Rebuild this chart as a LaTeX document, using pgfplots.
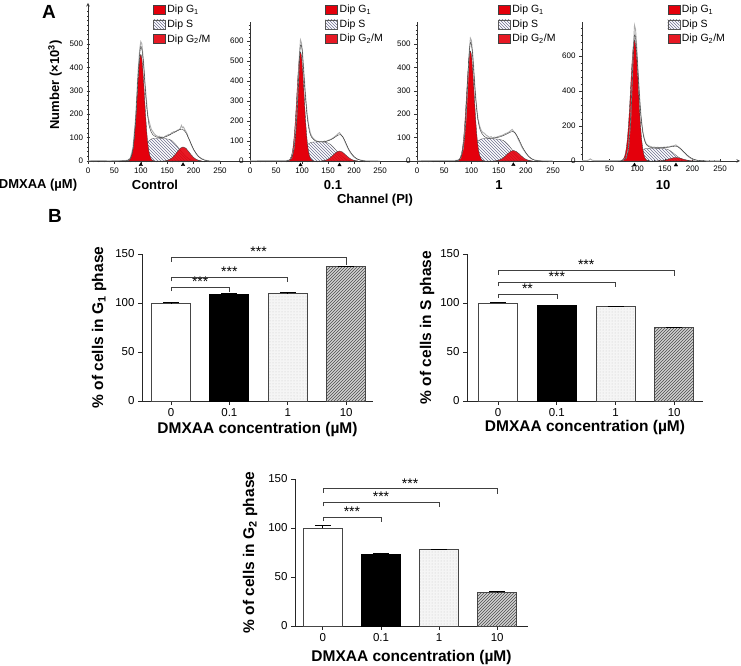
\documentclass[border=0pt]{standalone}
\usepackage{fontspec}
\setmainfont{Liberation Sans}
\usepackage{pgfplots}
\pgfplotsset{compat=1.18}
\usetikzlibrary{patterns}
\definecolor{histred}{RGB}{228,0,12}
\definecolor{hatchc}{RGB}{110,110,145}
\definecolor{bard}{RGB}{70,70,70}
\tikzset{
  sig/.style={gray!50!black, line width=0.6pt},
  star/.style={font=\fontsize{14}{14}\selectfont, anchor=south, inner sep=0.5pt},
}
\pgfplotsset{
  histax/.style={scale only axis, axis x line*=bottom, xmin=0, ymin=0,
    xtick={0,50,...,250}, minor xtick={10,20,...,240},
    tick align=outside, major tick length=3pt, minor tick length=1.5pt,
    tick style={black!80, line width=0.5pt},
    axis line style={black!80, line width=0.6pt},
    tick label style={font=\fontsize{8}{9}\selectfont},
    /pgf/number format/assume math mode=true,
    clip=false,
    legend style={draw=none, fill=none, font=\fontsize{10.5}{11}\selectfont, anchor=north west, row sep=1.5pt, inner sep=0pt},
    legend cell align=left,
    legend image code/.code={\draw[##1] (0pt,-4.5pt) rectangle (12pt,4.5pt);},
  },
  gone/.style={fill=histred, draw=black!75, line width=0.35pt},
  ess/.style={pattern=north west lines, pattern color=hatchc, draw=black!65, line width=0.35pt},
  gtwo/.style={fill=histred, fill opacity=0.9, draw=black!75, line width=0.35pt},
  meas/.style={gray!65, line width=0.9pt},
  env/.style={black!85, line width=0.35pt, smooth},
  barax/.style={scale only axis, axis x line*=bottom, axis y line*=left,
    ymin=0, ymax=150, ytick={0,50,100,150}, xtick={0,1,2,3}, xticklabels={0,0.1,1,10},
    tick align=outside, major tick length=4pt,
    tick style={black!85, line width=0.8pt}, axis line style={black!85, line width=0.8pt},
    tick label style={font=\fontsize{11.5}{13}\selectfont},
    /pgf/number format/assume math mode=true,
    xlabel={DMXAA concentration (µM)},
    ybar, bar width=39pt, bar shift=0pt, clip=false, height=147pt,
    error bars/y dir=plus, error bars/y explicit,
    error bars/error bar style={black, line width=0.8pt},
    error bars/error mark options={black, mark size=8pt, line width=0.8pt, rotate=90},
  },
  xlab/.style={every axis x label/.style={at={(axis description cs:0.5,0)}, anchor=base, yshift=-#1, font=\bfseries\fontsize{15.5}{17}\selectfont}},
  ylab/.style={every axis y label/.style={at={(axis description cs:0,0.5)}, anchor=base, xshift=-#1, rotate=90, font=\bfseries\fontsize{15.5}{17}\selectfont}},
  b0/.style={fill=white, draw=bard, line width=0.9pt},
  b1/.style={fill=black, draw=black, line width=0.9pt},
  b2/.style={fill=gray!8, draw=bard, line width=0.9pt, postaction={pattern=dots, pattern color=gray!45}},
  b3/.style={fill=gray!35, draw=bard, line width=0.9pt, postaction={pattern=north east lines, pattern color=black!70}},
}
\begin{document}
\begin{tikzpicture}[x=1pt,y=1pt]
\useasboundingbox (0,0) rectangle (741,666);

% ---------------- Panel A ----------------
% Control
\begin{axis}[histax, at={(88pt,505pt)}, anchor=south west, width=162pt, height=158pt,
  xmax=306.8, ymax=675, axis y line=left, ytick={0,100,...,500}, minor ytick={20,40,...,640},
  legend style={at={(0.40,1.0)}}]
\addlegendimage{gone}\addlegendentry{Dip G\textsubscript{1}}
\addlegendimage{ess}\addlegendentry{Dip S}
\addlegendimage{gtwo}\addlegendentry{Dip G\textsubscript{2}/M}
\addplot[ess, forget plot] coordinates {(85,0)(90,3)(95,10)(100,25)(105,45)(110,67)(115,85)(120,94)(125,97)(135,97)(145,96)(155,92)(160,85)(165,74)(170,60)(175,45)(180,32)(185,20)(190,10)(195,4)(200,1)(205,0)} \closedcycle;
\addplot[gone, smooth, forget plot] coordinates {(75,0.8)(77.5,2.6)(80,7.7)(82.5,20)(85,46)(87.5,92)(90,164)(92.5,256)(95,353)(97.5,427)(100,455)(102.5,427)(105,353)(107.5,256)(110,164)(112.5,92)(115,46)(117.5,20)(120,7.7)(122.5,2.6)(125,0.8)} \closedcycle;
\addplot[gtwo, smooth, forget plot] coordinates {(145,0.8)(150,2.6)(155,6.8)(160,15)(165,27.5)(170,42)(175,55)(180,60)(185,55)(190,42)(195,27.5)(200,15)(205,6.8)(210,2.6)(215,0.8)} \closedcycle;
\addplot[meas, forget plot] coordinates {(0,1)(20,2)(40,1)(60,2)(70,2)(75,3)(80,12)(85,55)(90,180)(95,390)(98,480)(100,510)(102,500)(105,430)(108,330)(110,280)(113,200)(115,175)(118,150)(120,135)(123,125)(125,118)(128,110)(130,108)(133,103)(135,106)(138,100)(140,103)(143,99)(145,104)(148,108)(150,110)(153,114)(155,112)(158,120)(160,122)(163,126)(165,124)(168,130)(170,132)(173,135)(175,140)(177,152)(179,142)(181,145)(183,135)(185,128)(188,115)(190,100)(193,85)(195,72)(198,58)(200,48)(203,38)(205,30)(208,22)(210,18)(213,14)(215,10)(218,8)(220,5)(223,3)(225,2)(230,1)(240,1)(250,1)};
\addplot[env, forget plot] coordinates {(60,0)(75,2)(80,10)(85,50)(90,170)(95,370)(100,490)(105,420)(110,260)(115,160)(120,122)(125,108)(130,102)(135,100)(140,100)(145,102)(150,106)(155,112)(160,118)(165,124)(170,130)(175,135)(180,134)(185,122)(190,100)(195,75)(200,50)(205,32)(210,18)(215,9)(220,4)(225,1)(230,0)};
\addplot[only marks, mark=triangle*, mark size=2pt, black, forget plot] coordinates {(100,-16)(180,-16)};
\end{axis}

% 0.1
\begin{axis}[histax, at={(250pt,505pt)}, anchor=south west, width=167pt, height=139pt,
  xmax=321, ymax=695, axis y line*=left, ytick={0,100,...,600}, minor ytick={20,40,...,680},
  legend style={at={(0.45,1.137)}}]
\addlegendimage{gone}\addlegendentry{Dip G\textsubscript{1}}
\addlegendimage{ess}\addlegendentry{Dip S}
\addlegendimage{gtwo}\addlegendentry{Dip G\textsubscript{2}/M}
\addplot[ess, forget plot] coordinates {(82,0)(87,3)(92,10)(97,25)(102,45)(107,67)(112,85)(117,93)(122,95)(135,95)(145,94)(150,90)(155,82)(160,70)(165,55)(170,40)(175,27)(180,16)(185,8)(190,3)(195,0)} \closedcycle;
\addplot[gone, smooth, forget plot] coordinates {(72,0.9)(74.5,3.1)(77,9.3)(79.5,24)(82,55)(84.5,111)(87,196)(89.5,307)(92,422)(94.5,511)(97,545)(99.5,511)(102,422)(104.5,307)(107,196)(109.5,111)(112,55)(114.5,24)(117,9.3)(119.5,3.1)(122,0.9)} \closedcycle;
\addplot[gtwo, smooth, forget plot] coordinates {(137,0.7)(142,2.2)(147,5.7)(152,12.5)(157,23)(162,35)(167,46)(172,50)(177,46)(182,35)(187,23)(192,12.5)(197,5.7)(202,2.2)(207,0.7)} \closedcycle;
\addplot[meas, forget plot] coordinates {(0,1)(30,2)(60,2)(70,2)(75,4)(80,15)(85,70)(90,230)(93,400)(95,530)(97,605)(99,590)(101,540)(104,430)(107,320)(110,230)(113,175)(116,140)(119,122)(122,112)(125,105)(128,100)(131,98)(134,96)(137,98)(140,95)(143,100)(146,97)(149,102)(152,105)(155,108)(158,112)(161,118)(164,124)(167,130)(170,138)(172,142)(174,135)(176,128)(179,118)(182,100)(185,82)(188,65)(191,50)(194,38)(197,28)(200,20)(203,14)(206,9)(210,6)(215,3)(220,1)(230,1)(250,0)};
\addplot[env, forget plot] coordinates {(70,1)(78,8)(83,40)(88,140)(92,320)(95,500)(97,580)(100,560)(103,450)(106,340)(110,220)(114,150)(118,120)(122,108)(126,100)(130,97)(135,96)(140,96)(145,98)(150,101)(155,106)(160,113)(165,122)(170,130)(174,132)(178,122)(182,103)(186,80)(190,58)(195,38)(200,22)(205,12)(210,6)(215,2)(222,0)};
\addplot[only marks, mark=triangle*, mark size=2pt, black, forget plot] coordinates {(97,-20)(172,-20)};
\end{axis}

% 1
\begin{axis}[histax, at={(417pt,505pt)}, anchor=south west, width=165pt, height=139pt,
  xmax=303, ymax=594, axis y line*=left, ytick={0,100,...,500}, minor ytick={20,40,...,580},
  legend style={at={(0.49,1.137)}}]
\addlegendimage{gone}\addlegendentry{Dip G\textsubscript{1}}
\addlegendimage{ess}\addlegendentry{Dip S}
\addlegendimage{gtwo}\addlegendentry{Dip G\textsubscript{2}/M}
\addplot[ess, forget plot] coordinates {(83,0)(88,3)(93,10)(98,25)(103,47)(108,70)(113,87)(118,94)(125,96)(140,95)(150,93)(158,88)(163,80)(168,68)(173,53)(178,38)(183,25)(188,14)(193,6)(198,2)(203,0)} \closedcycle;
\addplot[gone, smooth, forget plot] coordinates {(73,0.8)(75.5,2.7)(78,8)(80.5,21)(83,47)(85.5,95)(88,169)(90.5,265)(93,364)(95.5,441)(98,470)(100.5,441)(103,364)(105.5,265)(108,169)(110.5,95)(113,47)(115.5,21)(118,8)(120.5,2.7)(123,0.8)} \closedcycle;
\addplot[gtwo, smooth, forget plot] coordinates {(142,0.6)(147,2)(152,5.1)(157,11)(162,21)(167,32)(172,41)(177,45)(182,41)(187,32)(192,21)(197,11)(202,5.1)(207,2)(212,0.6)} \closedcycle;
\addplot[meas, forget plot] coordinates {(0,1)(30,2)(60,2)(70,2)(76,4)(80,12)(85,55)(90,180)(94,370)(96,470)(98,525)(100,515)(103,440)(106,330)(109,240)(112,180)(115,150)(118,130)(121,122)(124,118)(127,110)(130,106)(133,100)(136,104)(139,98)(142,102)(145,100)(148,104)(151,106)(154,108)(157,110)(160,114)(163,118)(166,120)(169,124)(172,130)(175,135)(177,128)(180,120)(183,108)(186,92)(189,78)(192,62)(195,50)(198,40)(201,30)(204,22)(207,15)(210,10)(214,6)(218,3)(225,1)(240,1)(250,0)};
\addplot[env, forget plot] coordinates {(70,1)(78,6)(83,35)(88,120)(92,290)(95,430)(98,505)(101,480)(104,390)(107,290)(111,190)(115,140)(119,118)(123,106)(127,100)(132,97)(137,97)(142,98)(147,100)(152,103)(157,107)(162,112)(167,118)(172,124)(176,126)(180,120)(184,106)(188,88)(192,68)(196,50)(200,35)(205,20)(210,10)(215,4)(222,1)(230,0)};
\addplot[only marks, mark=triangle*, mark size=2pt, black, forget plot] coordinates {(177,-16)};
\end{axis}

% 10
\begin{axis}[histax, at={(582pt,505pt)}, anchor=south west, width=158pt, height=139pt,
  xmax=286, ymax=794, axis y line*=left, axis x line=bottom, ytick={0,200,400,600}, minor ytick={40,80,...,760},
  legend style={at={(0.54,1.137)}}]
\addlegendimage{gone}\addlegendentry{Dip G\textsubscript{1}}
\addlegendimage{ess}\addlegendentry{Dip S}
\addlegendimage{gtwo}\addlegendentry{Dip G\textsubscript{2}/M}
\addplot[ess, forget plot] coordinates {(80,0)(85,3)(90,9)(95,22)(100,38)(105,55)(110,66)(115,71)(125,73)(140,72)(150,70)(155,66)(160,58)(165,46)(170,33)(175,21)(180,11)(185,5)(190,1)(195,0)} \closedcycle;
\addplot[gone, smooth, forget plot] coordinates {(70,1.2)(72.5,3.9)(75,11.7)(77.5,30)(80,70)(82.5,140)(85,248)(87.5,388)(90,535)(92.5,647)(95,690)(97.5,647)(100,535)(102.5,388)(105,248)(107.5,140)(110,70)(112.5,30)(115,11.7)(117.5,3.9)(120,1.2)} \closedcycle;
\addplot[gtwo, smooth, forget plot] coordinates {(135,0.3)(140,0.9)(145,2.3)(150,5)(155,9)(160,14)(165,18)(170,20)(175,18)(180,14)(185,9)(190,5)(195,2.3)(200,0.9)(205,0.3)} \closedcycle;
\addplot[meas, forget plot] coordinates {(0,2)(8,2)(12,5)(15,12)(18,5)(22,2)(40,2)(60,2)(70,3)(75,5)(80,18)(84,70)(88,230)(91,470)(93,650)(95,775)(97,750)(99,660)(101,540)(104,380)(107,250)(110,170)(113,125)(116,100)(119,90)(122,85)(125,82)(128,78)(131,80)(134,76)(137,79)(140,76)(143,78)(146,77)(149,80)(152,78)(155,82)(158,80)(161,84)(164,86)(167,88)(170,92)(172,86)(175,80)(178,72)(181,62)(184,52)(187,42)(190,32)(193,24)(196,17)(199,12)(202,8)(206,5)(210,3)(215,2)(225,1)(250,1)};
\addplot[env, forget plot] coordinates {(70,1)(78,10)(83,50)(87,180)(90,380)(93,620)(95,720)(97,700)(100,580)(103,420)(106,280)(110,165)(114,110)(118,88)(122,80)(127,76)(132,75)(137,75)(142,75)(147,76)(152,77)(157,79)(162,82)(167,84)(171,84)(175,78)(180,65)(185,50)(190,35)(195,22)(200,13)(205,7)(210,3)(218,1)(225,0)};
\addplot[only marks, mark=triangle*, mark size=2pt, black, forget plot] coordinates {(95,-23)(170,-23)};
\end{axis}

\node[font=\bfseries\fontsize{19}{19}\selectfont] at (49,654) {A};
\node[font=\bfseries\fontsize{19}{19}\selectfont] at (55,450) {B};
\node[font=\bfseries\fontsize{13}{13}\selectfont] at (38,481) {DMXAA (µM)};
\node[font=\bfseries\fontsize{13}{13}\selectfont] at (155,481) {Control};
\node[font=\bfseries\fontsize{13}{13}\selectfont] at (333,481) {0.1};
\node[font=\bfseries\fontsize{13}{13}\selectfont] at (499,481) {1};
\node[font=\bfseries\fontsize{13}{13}\selectfont] at (663,481) {10};
\node[font=\bfseries\fontsize{13}{13}\selectfont] at (375,466) {Channel (PI)};
\node[font=\bfseries\fontsize{13}{13}\selectfont, rotate=90] at (55,581) {Number (×10\textsuperscript{3})};

% ---------------- Panel B ----------------
% G1
\begin{axis}[barax, at={(142pt,265pt)}, anchor=south west, width=231pt, xmin=-0.497, xmax=3.46,
  xlab=32.5pt, ylab=39pt,
  ylabel={\% of cells in G\textsubscript{1} phase}]
\addplot[b0] coordinates {(0,100) +- (0,0.5)};
\addplot[b1] coordinates {(1,109) +- (0,0.8)};
\addplot[b2] coordinates {(2,110) +- (0,0.5)};
\addplot[b3] coordinates {(3,137) +- (0,0.5)};
\draw[sig] (axis cs:0,112) -- (axis cs:0,116) -- (axis cs:1,116) -- (axis cs:1,111);
\node[star] at (axis cs:0.5,116) {***};
\draw[sig] (axis cs:0,122) -- (axis cs:0,126.5) -- (axis cs:2,126.5) -- (axis cs:2,121);
\node[star] at (axis cs:1,126.5) {***};
\draw[sig] (axis cs:0,142) -- (axis cs:0,147) -- (axis cs:3,147) -- (axis cs:3,139);
\node[star] at (axis cs:1.5,147) {***};
\end{axis}

% S
\begin{axis}[barax, at={(467pt,265pt)}, anchor=south west, width=236pt, xmin=-0.53, xmax=3.49,
  xlab=31pt, ylab=36pt,
  ylabel={\% of cells in S phase}]
\addplot[b0] coordinates {(0,100) +- (0,0.8)};
\addplot[b1] coordinates {(1,97) +- (0,1)};
\addplot[b2] coordinates {(2,96) +- (0,0.8)};
\addplot[b3] coordinates {(3,75) +- (0,0.5)};
\draw[sig] (axis cs:0,105) -- (axis cs:0,109) -- (axis cs:1,109) -- (axis cs:1,104);
\node[star] at (axis cs:0.5,109) {**};
\draw[sig] (axis cs:0,117) -- (axis cs:0,121) -- (axis cs:2,121) -- (axis cs:2,116);
\node[star] at (axis cs:1,121) {***};
\draw[sig] (axis cs:0,129) -- (axis cs:0,133) -- (axis cs:3,133) -- (axis cs:3,128);
\node[star] at (axis cs:1.5,133) {***};
\end{axis}

% G2
\begin{axis}[barax, at={(295pt,40pt)}, anchor=south west, width=233pt, xmin=-0.48, xmax=3.53,
  xlab=35.5pt, ylab=41pt,
  ylabel={\% of cells in G\textsubscript{2} phase}]
\addplot[b0] coordinates {(0,100) +- (0,2.5)};
\addplot[b1] coordinates {(1,73) +- (0,1.5)};
\addplot[b2] coordinates {(2,78) +- (0,0.5)};
\addplot[b3] coordinates {(3,34) +- (0,0.8)};
\draw[sig] (axis cs:0,107) -- (axis cs:0,111) -- (axis cs:1,111) -- (axis cs:1,106);
\node[star] at (axis cs:0.5,111) {***};
\draw[sig] (axis cs:0,122) -- (axis cs:0,126.5) -- (axis cs:2,126.5) -- (axis cs:2,121);
\node[star] at (axis cs:1,126.5) {***};
\draw[sig] (axis cs:0,136) -- (axis cs:0,140) -- (axis cs:3,140) -- (axis cs:3,135);
\node[star] at (axis cs:1.5,140) {***};
\end{axis}
\end{tikzpicture}
\end{document}
